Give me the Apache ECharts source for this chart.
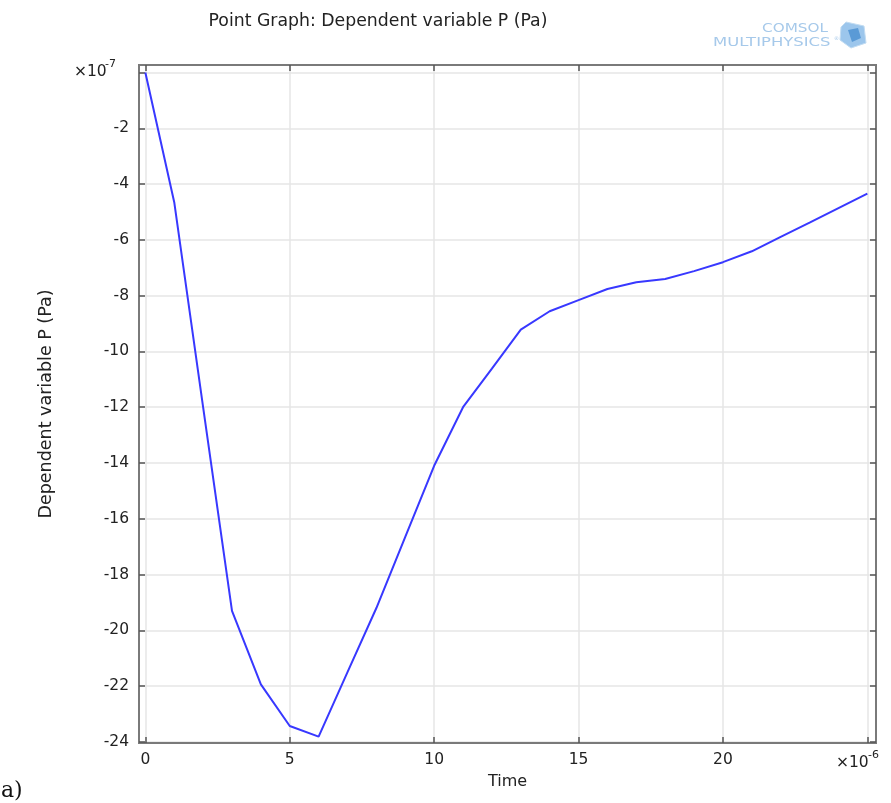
<!DOCTYPE html>
<html>
<head>
<meta charset="utf-8">
<script src="https://cdn.jsdelivr.net/npm/echarts@6/dist/echarts.min.js"></script>
<style>
  html, body { margin: 0; padding: 0; background: #ffffff; }
  #chart { width: 891px; height: 803px; }
</style>
</head>
<body>
<div id="chart"></div>
<script>
// Time samples (x 1e-6 s) and pressure values (x 1e-7 Pa)
const timeValues = [0, 1, 2, 3, 4, 5, 6, 7, 8, 9, 10, 11, 12, 13, 14, 15, 16, 17, 18, 19, 20, 21, 22, 23, 24, 25];
const pressureValues = [0, -4.65, -12.0, -19.3, -21.94, -23.43, -23.81, -21.5, -19.2, -16.65, -14.1, -12.0, -10.62, -9.22,
  -8.56, -8.16, -7.76, -7.52, -7.40, -7.12, -6.80, -6.41, -5.89, -5.38, -4.86, -4.34];

// Tick and label positions
const xTickValues = [0, 5, 10, 15, 20, 25];
const xLabelValues = [0, 5, 10, 15, 20];
const yTickValues = [0, -2, -4, -6, -8, -10, -12, -14, -16, -18, -20, -22, -24];
const yLabelValues = [-2, -4, -6, -8, -10, -12, -14, -16, -18, -20, -22, -24];

const FONT = 'DejaVu Sans';
const FRAME = '#7a7a7a';
const GRIDLINE = '#e6e6e6';
const TEXT = '#222222';
const LOGO = '#a6c9ea';

const xRange = { min: -0.22, max: 25.3 };
const yRange = { min: -24.04, max: 0.27 };

const chart = echarts.init(document.getElementById('chart'), null, { renderer: 'canvas' });

const frameLine = { show: true, onZero: false, lineStyle: { color: FRAME, width: 2 } };
const frameTick = { show: true, inside: true, length: 6, lineStyle: { color: '#555', width: 1.5 } };

chart.setOption({
  animation: false,
  backgroundColor: '#ffffff',
  title: {
    text: 'Point Graph: Dependent variable P (Pa)',
    left: 373, top: 8, textAlign: 'center',
    textStyle: { fontFamily: FONT, fontSize: 17.3, fontWeight: 'normal', color: TEXT }
  },
  grid: {
    left: 139, right: 15, top: 65, bottom: 60,
    show: true, borderColor: FRAME, borderWidth: 2, backgroundColor: 'transparent'
  },
  xAxis: [
    {
      type: 'value', position: 'bottom', min: xRange.min, max: xRange.max,
      name: 'Time', nameLocation: 'middle', nameGap: 31,
      nameTextStyle: { fontFamily: FONT, fontSize: 16, color: TEXT },
      axisLine: frameLine,
      axisTick: Object.assign({ customValues: xTickValues }, frameTick),
      axisLabel: { customValues: xLabelValues, margin: 9, fontFamily: FONT, fontSize: 15.5, color: TEXT },
      splitLine: { show: true, lineStyle: { color: GRIDLINE, width: 1.5 } }
    },
    {
      type: 'value', position: 'top', min: xRange.min, max: xRange.max,
      axisLine: frameLine,
      axisTick: Object.assign({ customValues: xTickValues }, frameTick),
      axisLabel: { show: false },
      splitLine: { show: false }
    }
  ],
  yAxis: [
    {
      type: 'value', position: 'left', min: yRange.min, max: yRange.max,
      name: 'Dependent variable P (Pa)', nameLocation: 'middle', nameGap: 84,
      nameTextStyle: { fontFamily: FONT, fontSize: 17.5, color: TEXT },
      axisLine: frameLine,
      axisTick: Object.assign({ customValues: yTickValues }, frameTick),
      axisLabel: { customValues: yLabelValues, margin: 10, fontFamily: FONT, fontSize: 15.5, color: TEXT },
      splitLine: { show: true, lineStyle: { color: GRIDLINE, width: 1.5 } }
    },
    {
      type: 'value', position: 'right', min: yRange.min, max: yRange.max,
      axisLine: frameLine,
      axisTick: Object.assign({ customValues: yTickValues }, frameTick),
      axisLabel: { show: false },
      splitLine: { show: false }
    }
  ],
  series: [{
    type: 'line',
    xAxisIndex: 0, yAxisIndex: 0,
    data: timeValues.map((t, i) => [t, pressureValues[i]]),
    showSymbol: false,
    lineStyle: { color: '#3838ff', width: 2 },
    z: 5
  }],
  graphic: [
    // axis exponent markers
    { type: 'text', x: 74, y: 72, style: { text: '×10', fontFamily: FONT, fontSize: 15.5, fill: TEXT, textVerticalAlign: 'middle' } },
    { type: 'text', x: 105, y: 64, style: { text: '-7', fontFamily: FONT, fontSize: 11, fill: TEXT, textVerticalAlign: 'middle' } },
    { type: 'text', x: 836, y: 763, style: { text: '×10', fontFamily: FONT, fontSize: 15.5, fill: TEXT, textVerticalAlign: 'middle' } },
    { type: 'text', x: 868, y: 755, style: { text: '-6', fontFamily: FONT, fontSize: 11, fill: TEXT, textVerticalAlign: 'middle' } },
    // panel tag
    { type: 'text', x: 1, y: 791, style: { text: 'a)', fontFamily: 'DejaVu Serif', fontSize: 22, fill: '#111', textVerticalAlign: 'middle' } },
    // COMSOL logo
    { type: 'text', x: 762, y: 29, scaleX: 1.27, style: { text: 'COMSOL', fontFamily: FONT, fontSize: 12, fill: LOGO, textVerticalAlign: 'middle' } },
    { type: 'text', x: 713, y: 43, scaleX: 1.37, style: { text: 'MULTIPHYSICS', fontFamily: FONT, fontSize: 12, fill: LOGO, textVerticalAlign: 'middle' } },
    { type: 'text', x: 834, y: 39, style: { text: '®', fontFamily: FONT, fontSize: 5, fill: LOGO, textVerticalAlign: 'middle' } },
    {
      type: 'polygon',
      shape: { points: [[846, 22], [864, 26], [866, 43], [851, 48], [840, 40], [841, 27]] },
      style: { fill: '#9cc6ec', stroke: '#c2dcf2', lineWidth: 1 }
    },
    {
      type: 'polygon',
      shape: { points: [[848, 30], [858, 28], [861, 38], [852, 42]] },
      style: { fill: '#5a9ad6' }
    }
  ]
});
</script>
</body>
</html>
